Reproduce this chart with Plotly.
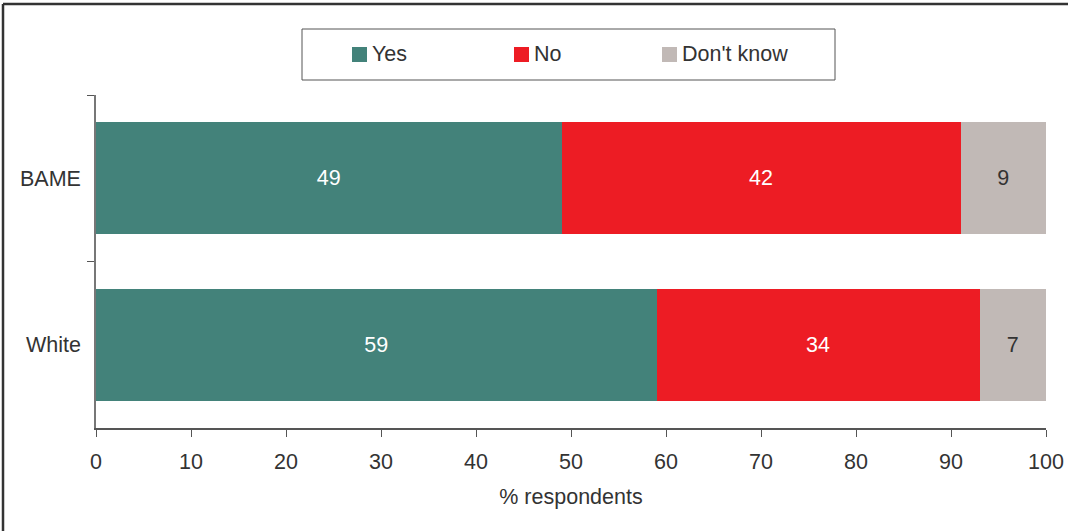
import plotly.graph_objects as go

categories = ["BAME", "White"]
series_names = ["Yes", "No", "Don't know"]
yes_vals = [49, 59]
no_vals = [42, 34]
dk_vals = [9, 7]
colors = ["#43827A", "#ED1C24", "#C1B9B6"]
text_colors = ["white", "white", "#333333"]
x_ticks = list(range(0, 101, 10))

FONT = "Liberation Sans, Arial, sans-serif"
FS = 21.5
W, H = 1068, 531
L, R, T, B = 96, 22, 95, 103
pw, ph = W - L - R, H - T - B

def px(x):
    return (x - L) / pw

def py(y):
    return (H - B - y) / ph

fig = go.Figure()
for name, vals, col, tcol in zip(series_names, [yes_vals, no_vals, dk_vals], colors, text_colors):
    fig.add_trace(go.Bar(
        name=name, y=categories, x=vals, orientation="h",
        marker=dict(color=col, line=dict(width=0)),
        text=[str(v) for v in vals], textposition="inside", insidetextanchor="middle",
        textfont=dict(color=tcol, size=FS, family=FONT),
        hoverinfo="skip", showlegend=False,
    ))

shapes = []
annotations = []
# outer frame (left and top edges)
shapes.append(dict(type="line", xref="paper", yref="paper", x0=px(3), x1=px(3), y0=py(4), y1=py(H + 5),
                   line=dict(color="#333333", width=2.5)))
shapes.append(dict(type="line", xref="paper", yref="paper", x0=px(3), x1=px(W + 5), y0=py(4), y1=py(4),
                   line=dict(color="#333333", width=2.5)))
# legend box
shapes.append(dict(type="rect", xref="paper", yref="paper", x0=px(302), x1=px(835), y0=py(29), y1=py(80),
                   line=dict(color="#555555", width=1), fillcolor="white"))
leg_sq_x = [352, 514, 662]
for name, col, sx in zip(series_names, colors, leg_sq_x):
    shapes.append(dict(type="rect", xref="paper", yref="paper", x0=px(sx), x1=px(sx + 15),
                       y0=py(47), y1=py(62), line=dict(width=0), fillcolor=col))
    annotations.append(dict(text=name, xref="paper", yref="paper", x=px(sx + 18), y=py(54.5),
                            xanchor="left", yanchor="middle", showarrow=False,
                            font=dict(size=FS, color="#333333", family=FONT)))

fig.update_layout(
    width=W, height=H, barmode="stack", bargap=0.33,
    margin=dict(l=L, r=R, t=T, b=B, autoexpand=False),
    paper_bgcolor="white", plot_bgcolor="white",
    font=dict(family=FONT, size=FS, color="#333333"),
    shapes=shapes, annotations=annotations,
    uniformtext=dict(mode=False),
)
fig.update_xaxes(
    range=[0, 100], tickvals=x_ticks, ticks="outside", ticklen=7, tickcolor="#555555",
    showline=True, linecolor="#555555", linewidth=1.5, showgrid=False, zeroline=False,
    tickfont=dict(size=FS, color="#333333"), ticklabelstandoff=6,
    title=dict(text="% respondents", font=dict(size=FS, color="#333333"), standoff=16),
)
fig.update_yaxes(
    categoryorder="array", categoryarray=categories, autorange="reversed",
    tickson="boundaries", ticks="outside", ticklen=7, tickcolor="#555555",
    showline=True, linecolor="#777777", linewidth=1.5, showgrid=False, zeroline=False,
    tickfont=dict(size=FS, color="#333333"), ticklabelstandoff=9,
)

fig.write_html("out.html")
